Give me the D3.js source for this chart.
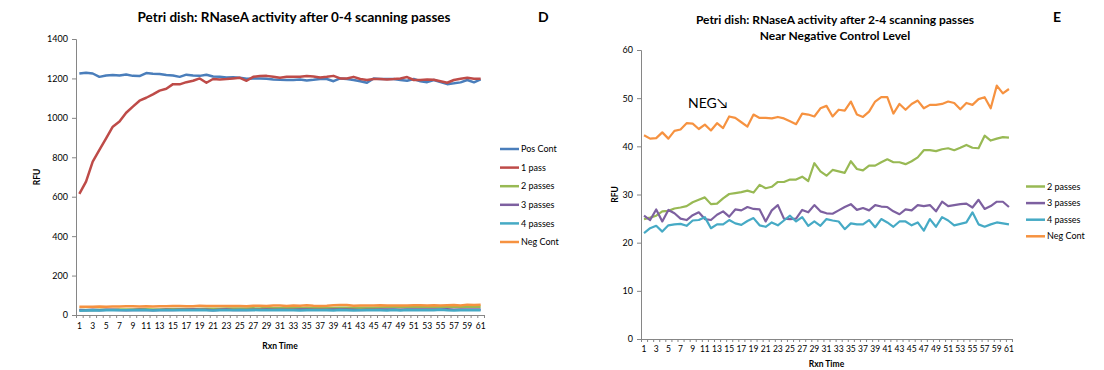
<!DOCTYPE html>
<html>
<head>
  <meta charset="utf-8">
  <title>Petri dish RNaseA activity</title>
  <script src="https://d3js.org/d3.v7.min.js"></script>
  <style>
    body { margin: 0; background: #fff; }
    svg text { font-family: Lato, "Open Sans", sans-serif; fill: #000; }
  </style>
</head>
<body>
<div id="chart"></div>
<script>
// categories (Rxn Time) and the labels shown on the x axis
var rxnTime = [1,2,3,4,5,6,7,8,9,10,11,12,13,14,15,16,17,18,19,20,21,22,23,24,25,26,27,28,29,30,
  31,32,33,34,35,36,37,38,39,40,41,42,43,44,45,46,47,48,49,50,51,52,53,54,55,56,57,58,59,60,61];
var xTickLabels = [1,3,5,7,9,11,13,15,17,19,21,23,25,27,29,31,33,35,37,39,41,43,45,47,49,51,53,55,57,59,61];
var leftYTicks = [0,200,400,600,800,1000,1200,1400];
var rightYTicks = [0,10,20,30,40,50,60];

// RFU series
var posCont = [1225,1229,1225,1208,1215,1217,1215,1220,1213,1212,1227,1224,1222,1217,1215,1208,1219,1215,
  1213,1219,1210,1208,1205,1206,1204,1198,1200,1200,1198,1195,1193,1192,1192,1195,1190,1193,1197,
  1197,1186,1200,1197,1192,1186,1178,1200,1197,1197,1197,1192,1188,1197,1186,1181,1192,1181,1171,1175,
  1180,1192,1180,1195];
var pass1 = [614,677,778,837,896,955,981,1026,1057,1087,1102,1119,1138,1148,1171,1170,1181,1188,
  1200,1178,1197,1195,1197,1200,1203,1188,1208,1212,1213,1208,1203,1208,1208,1208,1212,1210,1205,
  1208,1213,1200,1200,1208,1197,1192,1197,1197,1195,1197,1200,1207,1192,1192,1195,1193,1186,1178,1192,
  1198,1203,1198,1198];
var pass2 = [24.9,25.2,25.6,26.5,26.6,27.1,27.3,27.6,28.4,28.9,
  29.4,28.0,28.1,29.2,30.1,30.3,30.5,30.8,30.4,32.0,
  31.3,31.6,32.6,32.6,33.1,33.1,33.7,32.8,36.5,34.8,
  33.9,35.1,34.8,34.5,36.9,35.3,35.0,36.0,36.0,36.7,
  37.3,36.7,36.7,36.3,36.9,37.7,39.2,39.2,39.0,39.4,
  39.6,39.2,39.7,40.3,39.7,39.6,42.2,41.2,41.6,41.9,41.8];
var pass3 = [25.6,24.7,26.9,24.4,26.8,26.1,25.0,24.7,25.7,26.3,
  24.9,24.7,25.8,26.5,25.4,26.9,26.7,27.4,27.0,26.9,
  24.4,26.7,27.8,25.0,24.9,25.0,26.8,26.3,27.8,26.5,
  26.1,26.0,26.7,27.4,28.0,26.8,27.2,26.7,27.8,27.5,
  27.4,26.5,25.9,26.9,26.7,27.8,27.6,27.8,26.5,28.5,
  27.6,27.8,28.0,28.1,27.3,28.9,27.0,27.6,28.5,28.5,27.4];
var pass4 = [22.0,23.0,23.5,22.3,23.6,23.8,23.9,23.5,24.6,24.7,
  25.3,23.0,23.8,23.8,24.7,24.0,23.7,24.5,25.1,23.6,
  23.3,24.2,23.6,24.6,25.6,24.4,25.3,23.5,24.4,23.5,
  24.9,24.6,24.4,22.8,24.0,23.8,23.8,24.7,23.2,24.9,
  24.2,23.3,24.4,24.4,23.6,24.2,22.5,24.9,23.3,25.3,
  24.6,23.6,23.9,24.2,26.3,23.8,23.3,23.8,24.2,24.0,23.8];
var negCont = [42.3,41.6,41.7,42.9,41.6,43.2,43.5,44.8,44.7,43.6,
  44.5,43.3,44.8,43.8,46.2,45.9,45.0,44.1,46.6,45.9,
  45.9,45.8,46.1,45.8,45.2,44.6,46.8,46.6,46.2,47.9,
  48.4,46.2,47.6,47.4,49.3,46.6,46.1,47.2,49.3,50.2,
  50.2,46.8,48.8,47.6,48.8,49.5,47.9,48.6,48.6,48.8,
  49.3,49.0,47.7,49.0,48.6,49.8,50.2,47.9,52.6,51.0,51.9];

var colors = {
  "Pos Cont": "#4a7ebb", "1 pass": "#be4b48", "2 passes": "#98b954",
  "3 passes": "#7d60a0", "4 passes": "#46aac5", "Neg Cont": "#f69240"
};

var svg = d3.select("#chart").append("svg")
    .attr("width", 1104)
    .attr("height", 370);

function drawChart(c) {
  var x = d3.scaleBand().domain(rxnTime).range([c.left, c.right]).padding(0);
  var xEdges = d3.scaleLinear().domain([0, rxnTime.length]).range([c.left, c.right]);
  var y = d3.scaleLinear().domain(c.yDomain).range([c.bottom, c.top]);

  var g = svg.append("g");

  // y axis
  var ya = g.append("g")
      .attr("transform", "translate(" + c.left + ",0)")
      .call(d3.axisLeft(y).tickValues(c.yTicks).tickFormat(d3.format("d")).tickSize(4).tickPadding(4));
  ya.selectAll("text").attr("font-size", 9);

  // x axis: tick marks between categories, labels on every other category
  g.append("g")
      .attr("transform", "translate(0," + c.bottom + ")")
      .call(d3.axisBottom(xEdges).tickValues(d3.range(0, rxnTime.length + 1)).tickFormat("").tickSize(3));
  var xl = g.append("g")
      .attr("transform", "translate(0," + c.bottom + ")")
      .call(d3.axisBottom(x).tickValues(xTickLabels).tickSize(0).tickPadding(c.xLabelPad));
  xl.select(".domain").remove();
  xl.selectAll("text").attr("font-size", 8.5);

  g.selectAll(".domain, .tick line").attr("stroke", "#868686");

  var line = d3.line()
      .x(function(d, i) { return x(rxnTime[i]) + x.bandwidth() / 2; })
      .y(function(d) { return y(d); });

  c.series.forEach(function(s) {
    g.append("path")
        .datum(s.values)
        .attr("fill", "none")
        .attr("stroke", colors[s.name])
        .attr("stroke-width", c.lineWidth)
        .attr("stroke-linejoin", "round")
        .attr("d", line);
  });

  // legend
  c.series.forEach(function(s, i) {
    var ly = c.legendY + i * c.legendStep;
    g.append("line")
        .attr("x1", c.legendX).attr("x2", c.legendX + 19)
        .attr("y1", ly).attr("y2", ly)
        .attr("stroke", colors[s.name])
        .attr("stroke-width", 2.5);
    g.append("text")
        .attr("x", c.legendX + 21)
        .attr("y", ly)
        .attr("dy", "0.35em")
        .attr("font-size", 9)
        .text(s.name);
  });

  // titles
  c.title.forEach(function(t, i) {
    g.append("text")
        .attr("x", c.titleX)
        .attr("y", c.titleY + i * 16)
        .attr("text-anchor", "middle")
        .attr("font-size", c.titleSize)
        .attr("font-weight", "bold")
        .text(t);
  });
  g.append("text")
      .attr("x", c.letterX).attr("y", 22)
      .attr("font-size", 14).attr("font-weight", "bold")
      .text(c.letter);
  g.append("text")
      .attr("x", (c.left + c.right) / 2)
      .attr("y", c.bottom + c.xTitleOff)
      .attr("text-anchor", "middle")
      .attr("font-size", 8.5)
      .attr("font-weight", "bold")
      .text("Rxn Time");
  g.append("text")
      .attr("transform", "translate(" + c.rfuX + "," + ((c.top + c.bottom) / 2) + ") rotate(-90)")
      .attr("text-anchor", "middle")
      .attr("font-size", 8.5)
      .attr("font-weight", "bold")
      .text("RFU");
  return { x: x, y: y, g: g };
}

// panel D
drawChart({
  left: 76, right: 484, top: 39, bottom: 315,
  yDomain: [0, 1400], yTicks: leftYTicks, lineWidth: 2.5,
  xLabelPad: 8, xTitleOff: 34,
  series: [
    { name: "Pos Cont", values: posCont },
    { name: "1 pass", values: pass1 },
    { name: "2 passes", values: pass2 },
    { name: "3 passes", values: pass3 },
    { name: "4 passes", values: pass4 },
    { name: "Neg Cont", values: negCont }
  ],
  legendX: 500, legendY: 149, legendStep: 18.6,
  title: ["Petri dish: RNaseA activity after 0-4 scanning passes"],
  titleX: 294, titleY: 22, titleSize: 13.5, letter: "D", letterX: 538, rfuX: 40
});

// panel E
var e = drawChart({
  left: 641, right: 1012, top: 50, bottom: 339,
  yDomain: [0, 60], yTicks: rightYTicks, lineWidth: 2.2,
  xLabelPad: 7, xTitleOff: 28,
  series: [
    { name: "2 passes", values: pass2 },
    { name: "3 passes", values: pass3 },
    { name: "4 passes", values: pass4 },
    { name: "Neg Cont", values: negCont }
  ],
  legendX: 1026, legendY: 186.5, legendStep: 16.6,
  title: ["Petri dish: RNaseA activity after 2-4 scanning passes", "Near Negative Control Level"],
  titleX: 835, titleY: 24, titleSize: 12, letter: "E", letterX: 1053, rfuX: 618
});

e.g.append("text")
    .attr("x", 688)
    .attr("y", 108)
    .attr("font-size", 14)
    .text("NEG\u2198");
</script>
</body>
</html>
